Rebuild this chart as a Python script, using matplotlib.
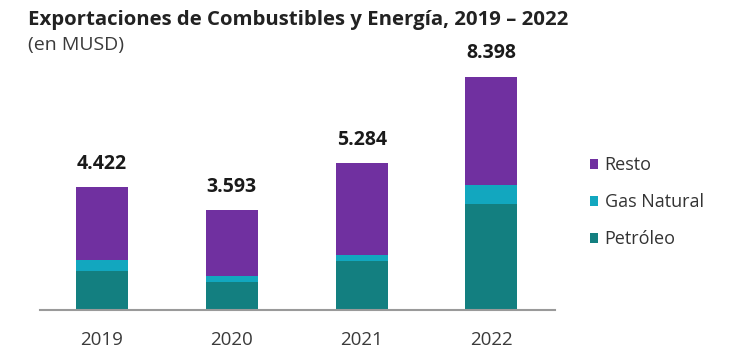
import matplotlib.pyplot as plt

years = ['2019', '2020', '2021', '2022']
totales = [4422, 3593, 5284, 8398]
petroleo = [1405, 1010, 1766, 3820]
gas_natural = [396, 216, 216, 685]
resto = [t - p - g for t, p, g in zip(totales, petroleo, gas_natural)]
etiquetas = ['4.422', '3.593', '5.284', '8.398']

c_petroleo = '#137F80'
c_gas = '#12A7BF'
c_resto = '#7030A0'

plt.rcParams['font.family'] = ['Open Sans', 'DejaVu Sans']

fig = plt.figure(figsize=(7.34, 3.63), dpi=100)
ax = fig.add_axes([40 / 734, 53 / 363, 515 / 734, 250 / 363])

x = range(len(years))
w = 0.4
b1 = ax.bar(x, petroleo, w, color=c_petroleo, label='Petróleo')
b2 = ax.bar(x, gas_natural, w, bottom=petroleo, color=c_gas, label='Gas Natural')
base = [p + g for p, g in zip(petroleo, gas_natural)]
b3 = ax.bar(x, resto, w, bottom=base, color=c_resto, label='Resto')

# etiquetas de total sobre cada barra
for i, (t, lab) in enumerate(zip(totales, etiquetas)):
    ax.annotate(lab, (i, t), xytext=(0, 17), textcoords='offset points',
                ha='center', va='center', fontsize=14, fontweight='bold',
                color='#1a1a1a')

ax.set_xlim(-0.478, 3.49)
ax.set_ylim(0, 9010)
ax.set_xticks(list(x))
ax.set_xticklabels(years, fontsize=13.5, color='#3a3a3a')
ax.tick_params(axis='x', length=0, pad=15)
ax.set_yticks([])
for s in ['top', 'right', 'left']:
    ax.spines[s].set_visible(False)
ax.spines['bottom'].set_color('#9a9a9a')
ax.spines['bottom'].set_linewidth(1.5)

fig.legend(handles=[b3, b2, b1], loc='upper left', bbox_to_anchor=(574 / 734, 1 - 140 / 363),
           frameon=False, fontsize=13, handlelength=0.45, handleheight=0.45,
           handletextpad=0.35, labelspacing=1.05, labelcolor='#333333')

fig.text(28 / 734, 1 - 20 / 363, 'Exportaciones de Combustibles y Energía, 2019 – 2022',
         fontsize=14.7, fontweight='bold', color='#222222', va='center')
fig.text(28 / 734, 1 - 45 / 363, '(en MUSD)', fontsize=14, color='#3a3a3a', va='center')

plt.savefig('out.png', dpi=100)
